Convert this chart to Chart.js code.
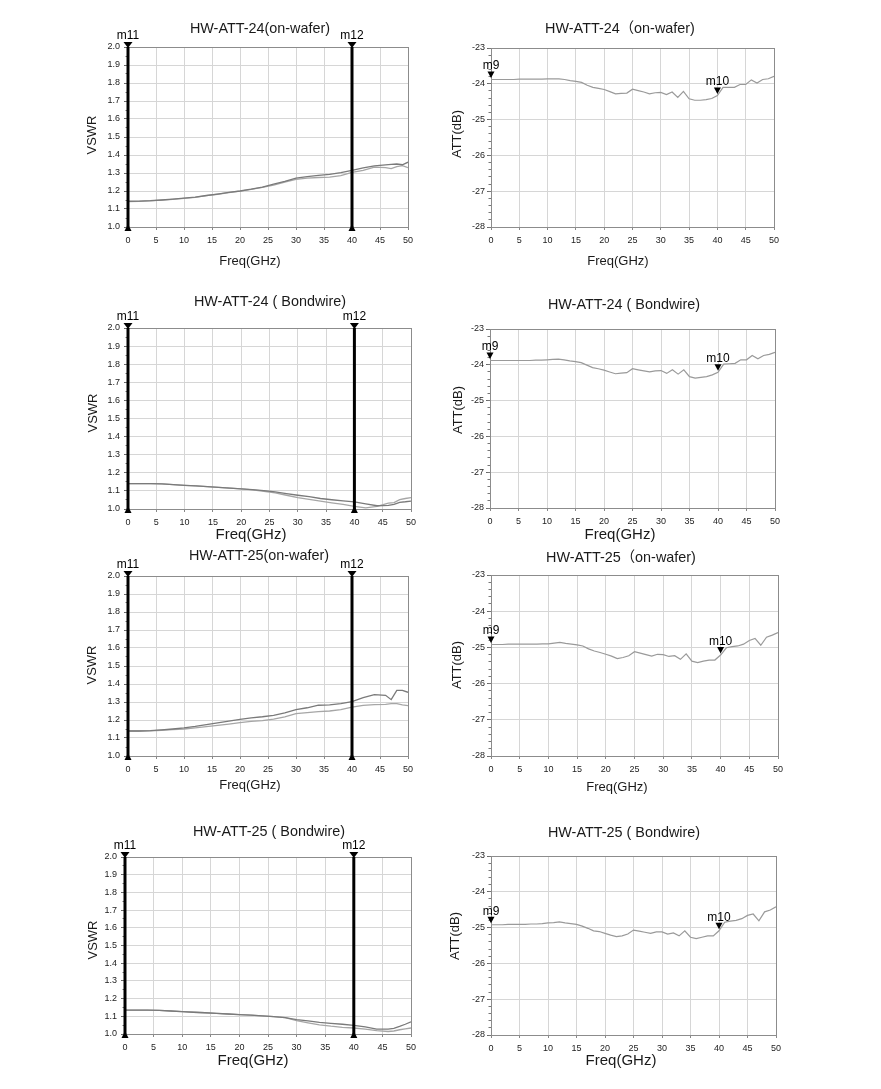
<!DOCTYPE html>
<html>
<head>
<meta charset="utf-8">
<script src="https://cdn.jsdelivr.net/npm/chart.js@4.4.1/dist/chart.umd.min.js"></script>
<style>
  html, body { margin: 0; padding: 0; background: #fff; }
  body { position: relative; width: 881px; height: 1089px; overflow: hidden; }
  canvas { position: absolute; }
</style>
</head>
<body>
<canvas id="c1"></canvas><canvas id="c2"></canvas>
<canvas id="c3"></canvas><canvas id="c4"></canvas>
<canvas id="c5"></canvas><canvas id="c6"></canvas>
<canvas id="c7"></canvas><canvas id="c8"></canvas>
<script>
// ---- data ----
const titles = [
  'HW-ATT-24(on-wafer)', 'HW-ATT-24（on-wafer)',
  'HW-ATT-24 ( Bondwire)', 'HW-ATT-24 ( Bondwire)',
  'HW-ATT-25(on-wafer)', 'HW-ATT-25（on-wafer)',
  'HW-ATT-25 ( Bondwire)', 'HW-ATT-25 ( Bondwire)'
];
const xTicks = [0, 5, 10, 15, 20, 25, 30, 35, 40, 45, 50];
const vswrRange = [1.0, 2.0];
const attRange = [-28, -23];
const vswrMarkers = ['m11', 'm12'];
const vswrMarkerFreq = [0, 40];
const attMarkers = ['m9', 'm10'];
const attMarkerFreq = [0, 40];

const vswrFreq = [0, 2, 4, 6, 8, 10, 12, 14, 16, 18, 20, 22, 24, 26, 28, 30, 32, 34, 36, 38, 40, 42, 44, 46, 47, 48, 49, 50];
const vswr24WaferA = [1.143, 1.144, 1.146, 1.150, 1.155, 1.160, 1.166, 1.175, 1.183, 1.192, 1.200, 1.210, 1.222, 1.238, 1.254, 1.272, 1.280, 1.287, 1.292, 1.302, 1.315, 1.328, 1.340, 1.345, 1.348, 1.350, 1.346, 1.360];
const vswr24WaferB = [1.141, 1.142, 1.145, 1.149, 1.154, 1.159, 1.165, 1.174, 1.182, 1.191, 1.199, 1.209, 1.220, 1.233, 1.250, 1.265, 1.272, 1.275, 1.277, 1.285, 1.303, 1.315, 1.333, 1.330, 1.324, 1.335, 1.341, 1.330];
const vswr24BondA = [1.140, 1.140, 1.140, 1.139, 1.135, 1.131, 1.128, 1.124, 1.120, 1.115, 1.111, 1.107, 1.102, 1.095, 1.085, 1.076, 1.068, 1.058, 1.051, 1.045, 1.039, 1.028, 1.018, 1.020, 1.026, 1.037, 1.040, 1.044];
const vswr24BondB = [1.140, 1.140, 1.140, 1.139, 1.135, 1.131, 1.128, 1.124, 1.120, 1.115, 1.111, 1.106, 1.098, 1.089, 1.076, 1.063, 1.053, 1.043, 1.034, 1.025, 1.015, 1.006, 1.015, 1.033, 1.035, 1.052, 1.058, 1.063];
const vswr25WaferA = [1.139, 1.139, 1.141, 1.145, 1.150, 1.156, 1.164, 1.174, 1.184, 1.194, 1.204, 1.212, 1.218, 1.226, 1.239, 1.258, 1.268, 1.282, 1.284, 1.291, 1.302, 1.324, 1.341, 1.337, 1.313, 1.365, 1.365, 1.354];
const vswr25WaferB = [1.139, 1.139, 1.140, 1.143, 1.147, 1.150, 1.156, 1.163, 1.170, 1.177, 1.185, 1.192, 1.196, 1.205, 1.217, 1.235, 1.241, 1.247, 1.250, 1.258, 1.272, 1.281, 1.285, 1.287, 1.291, 1.291, 1.284, 1.280];
const vswr25BondA = [1.135, 1.135, 1.135, 1.134, 1.130, 1.126, 1.123, 1.120, 1.117, 1.113, 1.110, 1.107, 1.102, 1.098, 1.093, 1.081, 1.074, 1.066, 1.060, 1.055, 1.049, 1.040, 1.028, 1.027, 1.032, 1.043, 1.055, 1.069];
const vswr25BondB = [1.135, 1.135, 1.135, 1.134, 1.130, 1.126, 1.123, 1.120, 1.117, 1.113, 1.110, 1.107, 1.102, 1.098, 1.092, 1.075, 1.063, 1.052, 1.044, 1.038, 1.034, 1.028, 1.019, 1.014, 1.017, 1.024, 1.029, 1.034];

const attFreq = [0, 1, 2, 3, 4, 5, 6, 7, 8, 9, 10, 11, 12, 13, 14, 15, 16, 17, 18, 19, 20, 21, 22, 23, 24, 25, 26, 27, 28, 29, 30, 31, 32, 33, 34, 35, 36, 37, 38, 39, 40, 41, 42, 43, 44, 45, 46, 47, 48, 49, 50];
const att24Wafer = [-23.88, -23.88, -23.88, -23.88, -23.88, -23.87, -23.87, -23.87, -23.87, -23.87, -23.86, -23.86, -23.86, -23.88, -23.91, -23.93, -23.96, -24.04, -24.10, -24.13, -24.16, -24.22, -24.28, -24.27, -24.26, -24.15, -24.19, -24.23, -24.28, -24.25, -24.24, -24.30, -24.23, -24.38, -24.21, -24.42, -24.46, -24.46, -24.44, -24.41, -24.33, -24.10, -24.10, -24.10, -24.02, -24.02, -23.89, -23.98, -23.88, -23.86, -23.79];
const att24Bond = [-23.88, -23.88, -23.88, -23.88, -23.88, -23.88, -23.88, -23.88, -23.87, -23.87, -23.86, -23.85, -23.84, -23.86, -23.89, -23.91, -23.94, -24.01, -24.08, -24.11, -24.15, -24.20, -24.25, -24.23, -24.22, -24.11, -24.14, -24.17, -24.20, -24.17, -24.16, -24.24, -24.14, -24.26, -24.14, -24.33, -24.37, -24.35, -24.33, -24.28, -24.21, -23.98, -23.97, -23.96, -23.86, -23.86, -23.74, -23.83, -23.74, -23.71, -23.65];
const att25Wafer = [-24.92, -24.92, -24.92, -24.91, -24.91, -24.91, -24.91, -24.91, -24.91, -24.90, -24.90, -24.88, -24.86, -24.89, -24.91, -24.93, -24.96, -25.04, -25.10, -25.14, -25.19, -25.24, -25.31, -25.28, -25.23, -25.12, -25.16, -25.20, -25.24, -25.19, -25.20, -25.25, -25.23, -25.33, -25.18, -25.38, -25.42, -25.38, -25.35, -25.35, -25.21, -25.01, -24.98, -24.96, -24.91, -24.81, -24.75, -24.94, -24.72, -24.66, -24.59];
const att25Bond = [-24.92, -24.92, -24.92, -24.91, -24.91, -24.91, -24.91, -24.90, -24.90, -24.89, -24.87, -24.86, -24.84, -24.87, -24.89, -24.91, -24.96, -25.02, -25.09, -25.11, -25.16, -25.21, -25.25, -25.23, -25.18, -25.07, -25.10, -25.13, -25.16, -25.12, -25.12, -25.18, -25.15, -25.23, -25.09, -25.27, -25.31, -25.27, -25.23, -25.23, -25.09, -24.85, -24.82, -24.80, -24.75, -24.66, -24.62, -24.81, -24.56, -24.51, -24.42];

// ---- layout (page pixels) ----
const FONT = '"Liberation Sans", Arial, "Noto Sans CJK SC", sans-serif';
const panels = [
  { id: 'c1', kind: 'vswr', title: titles[0], a: vswr24WaferA, b: vswr24WaferB, box: [0, 0, 440, 280], plot: [128, 47, 408, 227], titleAt: [260, 29], xTitleAt: [250, 261], yTitleAt: [92, 135], xFont: 13 },
  { id: 'c2', kind: 'att', title: titles[1], a: att24Wafer, box: [440, 0, 441, 280], plot: [491, 48, 774, 227], titleAt: [620, 29], xTitleAt: [618, 261], yTitleAt: [457, 134], xFont: 13 },
  { id: 'c3', kind: 'vswr', title: titles[2], a: vswr24BondA, b: vswr24BondB, box: [0, 280, 440, 265], plot: [128, 328, 411, 509], titleAt: [270, 302], xTitleAt: [251, 535], yTitleAt: [93, 413], xFont: 15 },
  { id: 'c4', kind: 'att', title: titles[3], a: att24Bond, box: [440, 280, 441, 265], plot: [490, 329, 775, 508], titleAt: [624, 305], xTitleAt: [620, 535], yTitleAt: [458, 410], xFont: 15 },
  { id: 'c5', kind: 'vswr', title: titles[4], a: vswr25WaferA, b: vswr25WaferB, box: [0, 545, 440, 270], plot: [128, 576, 408, 756], titleAt: [259, 556], xTitleAt: [250, 785], yTitleAt: [92, 665], xFont: 13 },
  { id: 'c6', kind: 'att', title: titles[5], a: att25Wafer, box: [440, 545, 441, 270], plot: [491, 575, 778, 756], titleAt: [621, 558], xTitleAt: [617, 787], yTitleAt: [457, 665], xFont: 13 },
  { id: 'c7', kind: 'vswr', title: titles[6], a: vswr25BondA, b: vswr25BondB, box: [0, 815, 440, 274], plot: [125, 857, 411, 1034], titleAt: [269, 832], xTitleAt: [253, 1061], yTitleAt: [93, 940], xFont: 15 },
  { id: 'c8', kind: 'att', title: titles[7], a: att25Bond, box: [440, 815, 441, 274], plot: [491, 856, 776, 1035], titleAt: [624, 833], xTitleAt: [621, 1061], yTitleAt: [455, 936], xFont: 15 }
];

Chart.defaults.font.family = FONT;
Chart.defaults.color = '#222';

// titles, axis names and marker labels
function panelText(p) {
  return {
    id: 'panelText',
    afterDraw(chart) {
      const { ctx, scales } = chart;
      const ox = p.box[0], oy = p.box[1];
      const isV = p.kind === 'vswr';
      ctx.save();
      ctx.fillStyle = '#1a1a1a';
      ctx.textAlign = 'center';
      ctx.textBaseline = 'middle';
      ctx.font = '14.4px ' + FONT;
      ctx.fillText(p.title, p.titleAt[0] - ox, p.titleAt[1] - oy);
      ctx.font = p.xFont + 'px ' + FONT;
      ctx.fillText('Freq(GHz)', p.xTitleAt[0] - ox, p.xTitleAt[1] - oy);
      ctx.save();
      ctx.translate(p.yTitleAt[0] - ox, p.yTitleAt[1] - oy);
      ctx.rotate(-Math.PI / 2);
      ctx.font = '13px ' + FONT;
      ctx.fillText(isV ? 'VSWR' : 'ATT(dB)', 0, 0);
      ctx.restore();

      ctx.fillStyle = '#000';
      ctx.font = '12px ' + FONT;
      if (isV) {
        const top = scales.y.getPixelForValue(vswrRange[1]);
        const bot = scales.y.getPixelForValue(vswrRange[0]);
        vswrMarkerFreq.forEach((f, i) => {
          const px = scales.x.getPixelForValue(f);
          ctx.beginPath();
          ctx.moveTo(px - 4.5, top - 5); ctx.lineTo(px + 4.5, top - 5); ctx.lineTo(px, top + 1);
          ctx.closePath(); ctx.fill();
          ctx.beginPath();
          ctx.moveTo(px - 3.5, bot + 4); ctx.lineTo(px + 3.5, bot + 4); ctx.lineTo(px, bot - 3);
          ctx.closePath(); ctx.fill();
          ctx.fillText(vswrMarkers[i], px, top - 11.5);
        });
      } else {
        attMarkerFreq.forEach((f, i) => {
          const px = scales.x.getPixelForValue(f);
          const py = scales.y.getPixelForValue(p.a[attFreq.indexOf(f)]);
          ctx.beginPath();
          ctx.moveTo(px - 3.5, py - 8); ctx.lineTo(px + 3.5, py - 8); ctx.lineTo(px, py - 1.5);
          ctx.closePath(); ctx.fill();
          ctx.fillText(attMarkers[i], px, py - 13.5);
        });
      }
      ctx.restore();
    }
  };
}

function edgeColor(max) {
  return (c) => (c.tick && Math.abs(c.tick.value - max) < 1e-6 ? '#8c8c8c' : '#d6d6d6');
}

function makeChart(p) {
  const cv = document.getElementById(p.id);
  const [bx, by, bw, bh] = p.box;
  const [pl, pt, pr, pb] = p.plot;
  cv.width = bw; cv.height = bh;
  cv.style.left = bx + 'px'; cv.style.top = by + 'px';
  const isV = p.kind === 'vswr';
  const range = isV ? vswrRange : attRange;
  const datasets = [];
  if (isV) {
    vswrMarkerFreq.forEach((f) => datasets.push({
      data: [{ x: f, y: range[0] }, { x: f, y: range[1] }],
      borderColor: '#000', borderWidth: 3, pointRadius: 0, order: 0, clip: false
    }));
    datasets.push({ data: vswrFreq.map((f, i) => ({ x: f, y: p.a[i] })), borderColor: '#7a7a7a', borderWidth: 1.3, pointRadius: 0, order: 1 });
    datasets.push({ data: vswrFreq.map((f, i) => ({ x: f, y: p.b[i] })), borderColor: '#a6a6a6', borderWidth: 1.3, pointRadius: 0, order: 2 });
  } else {
    datasets.push({ data: attFreq.map((f, i) => ({ x: f, y: p.a[i] })), borderColor: '#9a9a9a', borderWidth: 1.2, pointRadius: 0 });
  }

  new Chart(cv, {
    type: 'line',
    data: { datasets },
    options: {
      responsive: false,
      animation: false,
      layout: { padding: { left: pl - bx - 40, top: pt - by, right: bx + bw - pr, bottom: by + bh - pb - 20 } },
      plugins: { legend: { display: false }, tooltip: { enabled: false } },
      scales: {
        x: {
          type: 'linear', min: xTicks[0], max: xTicks[xTicks.length - 1],
          afterFit: (s) => { s.height = 20; },
          afterBuildTicks: (s) => { s.ticks = xTicks.map((v) => ({ value: v })); },
          ticks: { font: { size: 9 }, color: '#222', padding: 5, maxRotation: 0, autoSkip: false },
          grid: { color: edgeColor(xTicks[xTicks.length - 1]), tickLength: 3, tickColor: '#888' },
          border: { color: '#8c8c8c' }
        },
        y: {
          type: 'linear', min: range[0], max: range[1], weight: 1,
          afterFit: (s) => { s.width = 40; },
          ticks: {
            stepSize: isV ? 0.1 : 1, autoSkip: false, font: { size: 9 }, color: '#222', padding: isV ? 4 : 2,
            callback: (v) => (isV ? Number(v).toFixed(1) : String(v))
          },
          grid: { color: edgeColor(range[1]), tickLength: 4, tickColor: '#666' },
          border: { color: '#8c8c8c' }
        },
        ym: {
          type: 'linear', position: 'left', min: range[0], max: range[1], weight: 0,
          afterFit: (s) => { s.width = 0; },
          ticks: { display: false, stepSize: isV ? 0.05 : 0.2, maxTicksLimit: 1000 },
          grid: { drawOnChartArea: false, tickLength: 2.5, tickColor: '#777' },
          border: { display: false }
        }
      }
    },
    plugins: [panelText(p)]
  });
}

panels.forEach(makeChart);
</script>
</body>
</html>
